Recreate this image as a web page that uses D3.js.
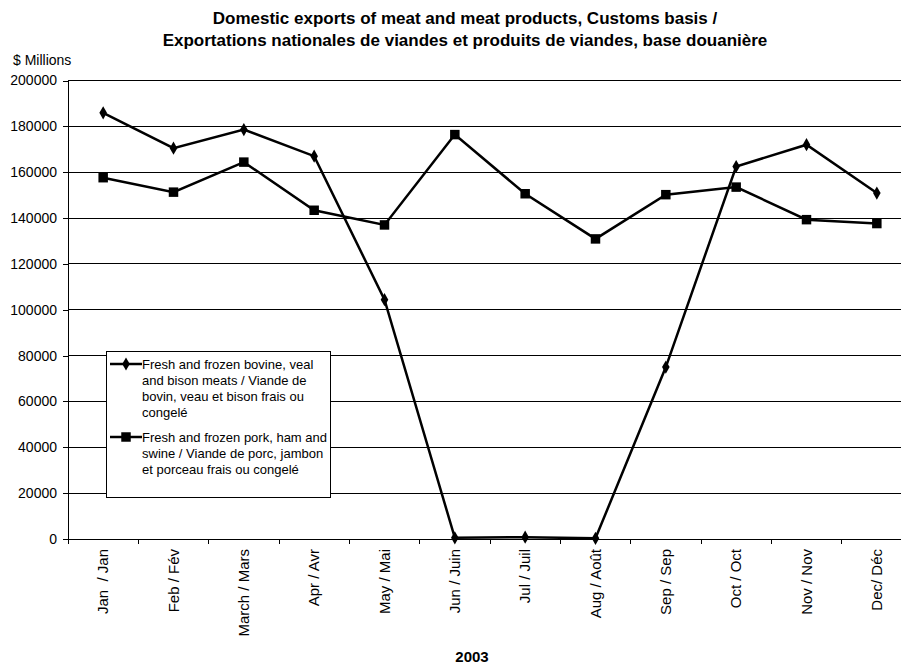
<!DOCTYPE html>
<html lang="en">
<head>
<meta charset="UTF-8">
<title>Domestic exports of meat</title>
<script src="https://d3js.org/d3.v7.min.js"></script>
<style>
  body { margin: 0; background: #fff; }
  svg { font-family: "Liberation Sans", Arial, sans-serif; }
</style>
</head>
<body>
<svg width="901" height="664"></svg>
<script>
var months = ["Jan  / Jan", "Feb / Fév", "March / Mars", "Apr / Avr", "May / Mai", "Jun / Juin",
              "Jul / Juil", "Aug / Août", "Sep / Sep", "Oct / Oct", "Nov / Nov", "Dec/ Déc"];
var bovine = [185900, 170500, 178600, 167000, 104400, 500, 800, 300, 75000, 162500, 172000, 150900];
var pork = [157600, 151300, 164400, 143400, 137000, 176400, 150600, 130900, 150200, 153500, 139300, 137600];
var yTicks = [0, 20000, 40000, 60000, 80000, 100000, 120000, 140000, 160000, 180000, 200000];
var bovineName = ["Fresh and frozen bovine, veal", "and bison meats / Viande de", "bovin, veau et bison frais ou", "congelé"];
var porkName = ["Fresh and frozen pork, ham and", "swine / Viande de porc, jambon", "et porceau frais ou congelé"];

var svg = d3.select("svg");
var plotLeft = 68, plotRight = 912, plotTop = 80.5, plotBottom = 539;

var x = d3.scaleBand().domain(months).range([plotLeft, plotRight]);
var y = d3.scaleLinear().domain([0, 200000]).range([plotBottom, plotTop]);

// grid lines
svg.append("g")
  .selectAll("line")
  .data(yTicks.slice(1))
  .join("line")
  .attr("x1", plotLeft).attr("x2", plotRight)
  .attr("y1", d => y(d)).attr("y2", d => y(d))
  .style("stroke", "#000")
  .style("stroke-width", 1)
  .style("shape-rendering", "crispEdges");

// y axis
var yAxis = svg.append("g")
  .attr("transform", "translate(" + plotLeft + ",0)")
  .call(d3.axisLeft(y).tickValues(yTicks).tickSize(5).tickPadding(6).tickFormat(d3.format("d")));
yAxis.selectAll("text").style("font-size", "14px").style("fill", "#000");
yAxis.selectAll("line, path").style("stroke", "#000").style("shape-rendering", "crispEdges");
yAxis.select(".domain").attr("d", "M0," + plotBottom + "V" + plotTop);

// x axis
var xAxis = svg.append("g")
  .attr("transform", "translate(0," + plotBottom + ")")
  .call(d3.axisBottom(x).tickSize(0).tickPadding(0));
xAxis.select(".domain").style("stroke", "#000").style("shape-rendering", "crispEdges")
  .attr("d", "M" + plotLeft + ",0H" + plotRight);
xAxis.selectAll(".tick text")
  .attr("transform", "rotate(-90)")
  .attr("x", -10).attr("y", 0).attr("dy", "0.35em")
  .attr("xml:space", "preserve")
  .style("white-space", "pre")
  .style("text-anchor", "end")
  .style("font-size", "15px")
  .style("fill", "#000");
svg.append("g")
  .selectAll("line")
  .data(months)
  .join("line")
  .attr("x1", d => x(d)).attr("x2", d => x(d))
  .attr("y1", plotBottom).attr("y2", plotBottom + 5)
  .style("stroke", "#000")
  .style("shape-rendering", "crispEdges");

var line = d3.line()
  .x((d, i) => x(months[i]) + x.bandwidth() / 2)
  .y(d => y(d));

var diamond = d3.symbol().type(d3.symbolDiamond).size(50);
var square = d3.symbol().type(d3.symbolSquare).size(90);

svg.append("path")
  .datum(bovine)
  .attr("d", line)
  .style("fill", "none").style("stroke", "#000").style("stroke-width", 2.5);
svg.append("path")
  .datum(pork)
  .attr("d", line)
  .style("fill", "none").style("stroke", "#000").style("stroke-width", 2.5);

svg.append("g")
  .selectAll("path")
  .data(bovine)
  .join("path")
  .attr("d", diamond)
  .attr("transform", (d, i) => "translate(" + (x(months[i]) + x.bandwidth() / 2) + "," + y(d) + ")")
  .style("fill", "#000");
svg.append("g")
  .selectAll("path")
  .data(pork)
  .join("path")
  .attr("d", square)
  .attr("transform", (d, i) => "translate(" + (x(months[i]) + x.bandwidth() / 2) + "," + y(d) + ")")
  .style("fill", "#000");

// titles
svg.append("text")
  .attr("x", 465).attr("y", 24)
  .attr("text-anchor", "middle")
  .style("font-size", "17px").style("font-weight", "bold")
  .text("Domestic exports of meat and meat products, Customs basis /");
svg.append("text")
  .attr("x", 465).attr("y", 46)
  .attr("text-anchor", "middle")
  .style("font-size", "17px").style("font-weight", "bold")
  .text("Exportations nationales de viandes et produits de viandes, base douanière");
svg.append("text")
  .attr("x", 13).attr("y", 65)
  .style("font-size", "14px")
  .text("$ Millions");
svg.append("text")
  .attr("x", 472).attr("y", 662)
  .attr("text-anchor", "middle")
  .style("font-size", "15px").style("font-weight", "bold")
  .text("2003");

// legend
var legend = svg.append("g").attr("transform", "translate(106,351)");
legend.append("rect")
  .attr("width", 224).attr("height", 146)
  .style("fill", "#fff").style("stroke", "#000").style("stroke-width", 1)
  .style("shape-rendering", "crispEdges");

function legendItem(ty, names, sym) {
  var g = legend.append("g").attr("transform", "translate(0," + ty + ")");
  g.append("line").attr("x1", 4).attr("x2", 36).attr("y1", 0).attr("y2", 0)
    .style("stroke", "#000").style("stroke-width", 2.5);
  g.append("path").attr("d", sym).attr("transform", "translate(20,0)").style("fill", "#000");
  g.selectAll("text")
    .data(names)
    .join("text")
    .attr("x", 36)
    .attr("y", (d, i) => i * 16)
    .attr("dy", "0.35em")
    .style("font-size", "13px")
    .text(d => d);
}
legendItem(13, bovineName, diamond);
legendItem(86, porkName, square);
</script>
</body>
</html>
